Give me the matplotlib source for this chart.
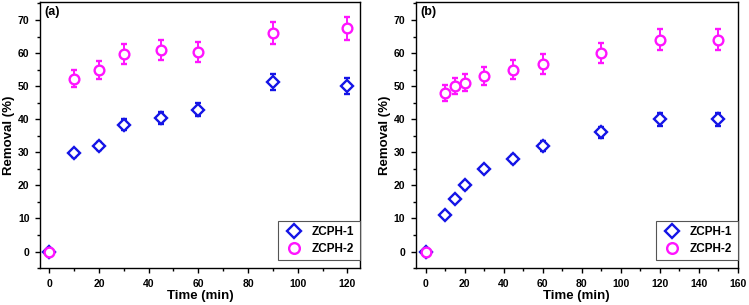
import matplotlib
matplotlib.use("Agg")
import matplotlib.pyplot as plt
from matplotlib.ticker import MultipleLocator
from matplotlib.container import ErrorbarContainer

plt.rcParams['font.family'] = ['Liberation Sans', 'DejaVu Sans']
plt.rcParams['font.weight'] = 'bold'

# Panel (a)
t_a = [0, 10, 20, 30, 45, 60, 90, 120]
z1_a = [0, 29.7, 31.8, 38.4, 40.4, 42.9, 51.3, 50.1]
z1_a_err = [0, 1.0, 1.2, 1.7, 1.8, 1.9, 2.5, 2.4]
z2_a = [0, 52.2, 54.8, 59.6, 61.0, 60.3, 66.1, 67.5]
z2_a_err = [0, 2.6, 2.7, 3.0, 3.1, 3.0, 3.3, 3.4]

# Panel (b)
t_b = [0, 10, 15, 20, 30, 45, 60, 90, 120, 150]
z1_b = [0, 11, 16, 20, 25, 28, 32, 36, 40, 40]
z1_b_err = [0, 0.5, 0.8, 1.0, 1.0, 1.2, 1.5, 1.8, 2.0, 2.0]
z2_b = [0, 48, 50, 51, 53, 55, 56.7, 60, 64, 64]
z2_b_err = [0, 2.4, 2.5, 2.6, 2.7, 2.8, 2.9, 3.0, 3.2, 3.2]

labels = ["ZCPH-1", "ZCPH-2"]
blue = "#1414e6"
mag = "#ff14ff"

fig = plt.figure(figsize=(7.49, 3.05), dpi=100)
ax1 = fig.add_axes([0.0534, 0.121, 0.427, 0.873])
ax2 = fig.add_axes([0.555, 0.121, 0.430, 0.873])

def draw(ax, t, y1, e1, y2, e2, xlim, xmaj, panel):
    ax.errorbar(t, y1, yerr=e1, fmt='D', ms=6.2, mfc='white', mec=blue, mew=1.7,
                ecolor=blue, elinewidth=1.4, capsize=2.5, capthick=1.4, label=labels[0], zorder=3)
    ax.errorbar(t, y2, yerr=e2, fmt='o', ms=7, mfc='white', mec=mag, mew=1.7,
                ecolor=mag, elinewidth=1.4, capsize=2.5, capthick=1.4, label=labels[1], zorder=4)
    ax.set_xlim(*xlim)
    ax.set_ylim(-5, 75.5)
    ax.xaxis.set_major_locator(MultipleLocator(xmaj))
    ax.xaxis.set_minor_locator(MultipleLocator(xmaj / 2))
    ax.yaxis.set_major_locator(MultipleLocator(10))
    ax.yaxis.set_minor_locator(MultipleLocator(5))
    ax.tick_params(which='both', direction='out', top=False, right=False, labelsize=7.5,
                   width=1.0, pad=4)
    ax.tick_params(which='major', length=3.5)
    ax.tick_params(which='minor', length=2)
    for lab in ax.get_xticklabels() + ax.get_yticklabels():
        lab.set_fontweight('bold')
    for s in ax.spines.values():
        s.set_linewidth(1.0)
    ax.set_xlabel("Time (min)", fontsize=9.5, fontweight='bold', labelpad=1)
    ax.set_ylabel("Removal (%)", fontsize=9.5, fontweight='bold', labelpad=2)
    ax.text(0.015, 0.985, panel, transform=ax.transAxes, ha='left', va='top',
            fontsize=9, fontweight='bold')
    h, l = ax.get_legend_handles_labels()
    hh = [x[0] if isinstance(x, ErrorbarContainer) else x for x in h]
    leg = ax.legend(hh, l, loc='lower right', bbox_to_anchor=(1.0, 0.03), fontsize=8.5,
                    frameon=True, fancybox=False, framealpha=1,
                    edgecolor='#555555', borderaxespad=0.0, handletextpad=0.6,
                    borderpad=0.45, labelspacing=0.4, handlelength=1.8, markerscale=1.1)
    leg.get_frame().set_linewidth(0.8)
    for txt in leg.get_texts():
        txt.set_fontweight('bold')

draw(ax1, t_a, z1_a, z1_a_err, z2_a, z2_a_err, (-3.7, 125), 20, "(a)")
draw(ax2, t_b, z1_b, z1_b_err, z2_b, z2_b_err, (-5.1, 160), 20, "(b)")

fig.savefig("out.png", dpi=100)
